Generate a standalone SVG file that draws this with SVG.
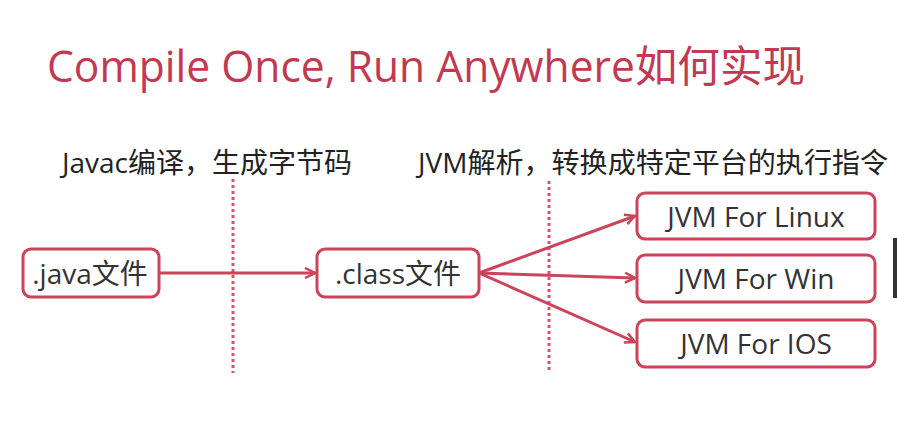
<svg xmlns="http://www.w3.org/2000/svg" width="897" height="428" viewBox="0 0 897 428">
<defs>
<style>
.title{font-family:"Open Sans","Noto Sans CJK SC",sans-serif;font-size:43px;fill:#c23a52;}
.note{font-family:"Open Sans","Noto Sans CJK SC",sans-serif;font-size:28px;fill:#222;}
.box{fill:#fff;stroke:#cc4459;stroke-width:3;}
.lbl{font-family:"Open Sans","Noto Sans CJK SC",sans-serif;font-size:28px;fill:#333;text-anchor:middle;dominant-baseline:central;}
.conn{stroke:#cc4459;stroke-width:3;fill:none;}
.div{stroke:#d4566d;stroke-width:3;stroke-dasharray:3 3;fill:none;}
</style>
<marker id="arr" viewBox="0 0 12 12" refX="11" refY="6" markerWidth="12" markerHeight="12" markerUnits="userSpaceOnUse" orient="auto">
<path d="M1,1 L11,6 L1,11" fill="none" stroke="#cc4459" stroke-width="2.5"/>
</marker>
</defs>
<rect width="897" height="428" fill="#fff"/>
<text class="title" x="47" y="82" textLength="758" lengthAdjust="spacingAndGlyphs">Compile Once, Run Anywhere如何实现</text>
<text class="note" x="62" y="173" textLength="290" lengthAdjust="spacingAndGlyphs">Javac编译，生成字节码</text>
<text class="note" x="418" y="173" textLength="470" lengthAdjust="spacingAndGlyphs">JVM解析，转换成特定平台的执行指令</text>
<g id="dividers">
<line class="div" x1="233" y1="179" x2="233" y2="373"/>
<line class="div" x1="549" y1="181" x2="549" y2="373"/>
</g>
<g id="connectors">
<line class="conn" x1="159" y1="273" x2="315" y2="273" marker-end="url(#arr)"/>
<line class="conn" x1="479" y1="273" x2="635" y2="216" marker-end="url(#arr)"/>
<line class="conn" x1="479" y1="273" x2="635" y2="278" marker-end="url(#arr)"/>
<line class="conn" x1="479" y1="273" x2="635" y2="342" marker-end="url(#arr)"/>
</g>
<g id="java"><rect class="box" x="23" y="249" width="136" height="48" rx="8"/><text class="lbl" x="90" y="273">.java文件</text></g>
<g id="class"><rect class="box" x="317" y="249" width="162" height="48" rx="8"/><text class="lbl" x="398" y="273">.class文件</text></g>
<g id="linux"><rect class="box" x="637" y="193" width="238" height="46" rx="8"/><text class="lbl" x="756" y="216">JVM For Linux</text></g>
<g id="win"><rect class="box" x="637" y="255" width="238" height="47" rx="8"/><text class="lbl" x="756" y="278">JVM For Win</text></g>
<g id="ios"><rect class="box" x="637" y="320" width="238" height="47" rx="8"/><text class="lbl" x="756" y="343">JVM For IOS</text></g>
<rect x="893" y="238" width="4" height="60" fill="#333"/>
</svg>
